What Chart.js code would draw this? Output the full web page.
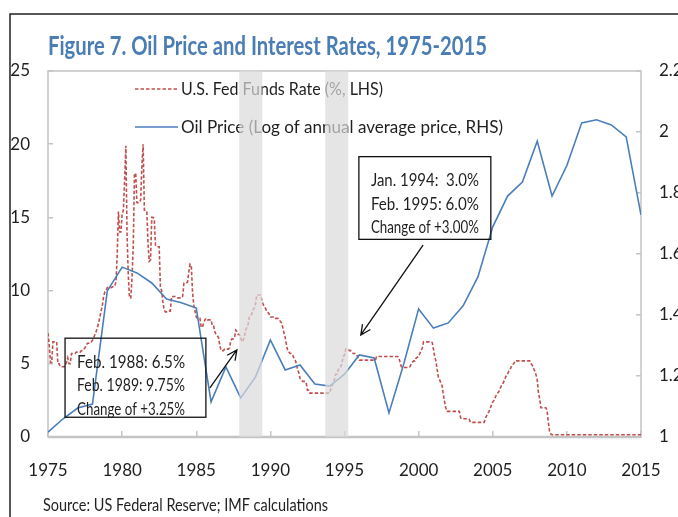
<!DOCTYPE html>
<html>
<head>
<meta charset="utf-8">
<script src="https://cdn.jsdelivr.net/npm/chart.js@4"></script>
<style>
  html, body { margin: 0; padding: 0; background: #fff; }
  #wrap { width: 678px; height: 517px; }
</style>
</head>
<body>
<div id="wrap"><canvas id="oilChart" width="678" height="517"></canvas></div>
<script>
/* ---------- DATA ---------- */

const oilYears = [1975, 1976, 1977, 1978, 1979, 1980, 1981, 1982, 1983, 1984,
                  1985, 1986, 1987, 1988, 1989, 1990, 1991, 1992, 1993, 1994,
                  1995, 1996, 1997, 1998, 1999, 2000, 2001, 2002, 2003, 2004,
                  2005, 2006, 2007, 2008, 2009, 2010, 2011, 2012, 2013, 2014, 2015];

// log10 of annual average oil price (RHS)
const oilLogPrice = [1.016, 1.059, 1.095, 1.108, 1.479, 1.557, 1.538, 1.505, 1.452, 1.440,
                     1.423, 1.115, 1.230, 1.128, 1.197, 1.318, 1.220, 1.236, 1.174, 1.167,
                     1.206, 1.269, 1.259, 1.079, 1.240, 1.420, 1.357, 1.374, 1.430, 1.525,
                     1.689, 1.790, 1.836, 1.970, 1.790, 1.890, 2.030, 2.040, 2.023, 1.984, 1.728];

// monthly fed funds rate (%, LHS), one row per year from fedStartYear
const fedStartYear = 1975;
const fedFundsMonthly = [
  [7.1, 6.3, 5.1, 5.1, 6.5, 6.5, 6.5, 6.5, 5.0, 5.0, 4.8, 4.8],        // 1975
  [4.8, 4.8, 4.9, 5.1, 5.4, 5.0, 5.0, 5.7, 5.7, 5.7, 5.7, 5.8],        // 1976
  [5.8, 5.8, 5.8, 5.9, 5.9, 6.0, 6.1, 6.3, 6.4, 6.4, 6.5, 6.5],        // 1977
  [6.6, 6.8, 7.0, 7.2, 7.5, 7.8, 8.2, 8.6, 9.0, 9.6, 9.9, 10.0],       // 1978
  [10.2, 10.2, 10.2, 10.2, 10.25, 10.3, 10.3, 10.6, 12.4, 15.4, 14.0, 14.0], // 1979
  [15.2, 15.5, 17.5, 19.9, 13.8, 11.0, 9.5, 9.5, 10.9, 13.0, 18.0, 18.0],    // 1980
  [16.0, 16.0, 16.0, 16.2, 18.5, 20.0, 15.5, 15.5, 15.4, 13.1, 12.0, 12.1],  // 1981
  [15.0, 15.0, 14.9, 13.1, 13.0, 13.0, 13.0, 10.2, 10.0, 9.2, 8.7, 8.55],    // 1982
  [8.55, 8.55, 8.6, 8.6, 9.6, 9.6, 9.6, 9.6, 9.55, 9.5, 9.5, 9.5],     // 1983
  [9.5, 9.6, 10.5, 10.5, 10.5, 10.6, 11.3, 11.8, 11.7, 9.9, 9.0, 8.6], // 1984
  [8.2, 8.1, 8.1, 8.1, 7.5, 7.5, 7.8, 8.0, 8.1, 8.0, 8.0, 8.0],        // 1985
  [8.0, 7.6, 7.6, 7.2, 7.0, 6.9, 6.8, 6.3, 5.9, 5.9, 5.9, 6.0],        // 1986
  [6.0, 6.0, 6.0, 6.1, 6.6, 6.7, 6.7, 6.8, 7.3, 7.2, 7.0, 7.0],        // 1987
  [6.8, 6.5, 6.6, 6.9, 7.3, 7.5, 7.7, 8.2, 8.3, 8.4, 8.7, 8.8],        // 1988
  [9.1, 9.7, 9.7, 9.7, 9.7, 9.4, 9.1, 8.9, 8.8, 8.6, 8.5, 8.4],        // 1989
  [8.2, 8.2, 8.2, 8.2, 8.1, 8.1, 8.1, 8.0, 7.9, 7.8, 7.5, 7.1],        // 1990
  [6.8, 6.3, 5.9, 5.8, 5.7, 5.7, 5.6, 5.4, 5.3, 5.0, 4.6, 4.4],        // 1991
  [4.0, 3.9, 3.8, 3.8, 3.8, 3.7, 3.2, 3.2, 3.0, 3.0, 3.0, 3.0],        // 1992
  [3.0, 3.0, 3.0, 3.0, 3.0, 3.0, 3.0, 3.0, 3.0, 3.0, 3.0, 3.0],        // 1993
  [3.0, 3.3, 3.5, 3.7, 4.0, 4.3, 4.3, 4.6, 4.7, 4.8, 5.1, 5.5],        // 1994
  [5.6, 6.0, 6.0, 6.0, 5.9, 5.9, 5.8, 5.7, 5.7, 5.7, 5.6, 5.4],        // 1995
  [5.25, 5.25, 5.25, 5.25, 5.25, 5.25, 5.25, 5.25, 5.25, 5.25, 5.25, 5.25], // 1996
  [5.25, 5.25, 5.5, 5.5, 5.5, 5.5, 5.5, 5.5, 5.5, 5.5, 5.5, 5.5],      // 1997
  [5.5, 5.5, 5.5, 5.5, 5.5, 5.5, 5.5, 5.5, 5.4, 5.1, 4.8, 4.75],       // 1998
  [4.75, 4.75, 4.75, 4.75, 4.75, 4.8, 5.0, 5.1, 5.2, 5.2, 5.4, 5.45],  // 1999
  [5.5, 5.7, 5.9, 6.1, 6.5, 6.5, 6.5, 6.5, 6.5, 6.5, 6.5, 6.45],       // 2000
  [6.0, 5.5, 5.2, 4.6, 4.1, 3.9, 3.7, 3.5, 2.9, 2.4, 2.0, 1.75],       // 2001
  [1.75, 1.75, 1.75, 1.75, 1.75, 1.75, 1.75, 1.75, 1.75, 1.75, 1.3, 1.25], // 2002
  [1.25, 1.25, 1.25, 1.25, 1.25, 1.2, 1.0, 1.0, 1.0, 1.0, 1.0, 1.0],   // 2003
  [1.0, 1.0, 1.0, 1.0, 1.0, 1.0, 1.25, 1.45, 1.6, 1.75, 1.95, 2.2],    // 2004
  [2.4, 2.5, 2.7, 2.9, 3.0, 3.1, 3.3, 3.5, 3.6, 3.8, 4.0, 4.2],        // 2005
  [4.3, 4.5, 4.6, 4.8, 4.95, 5.0, 5.2, 5.2, 5.2, 5.2, 5.2, 5.2],       // 2006
  [5.2, 5.2, 5.2, 5.2, 5.2, 5.2, 5.2, 5.0, 4.9, 4.7, 4.5, 4.25],       // 2007
  [3.9, 3.0, 2.6, 2.0, 2.0, 2.0, 2.0, 2.0, 1.8, 1.0, 0.4, 0.2],        // 2008
  [0.15, 0.15, 0.15, 0.15, 0.15, 0.15, 0.15, 0.15, 0.15, 0.15, 0.15, 0.15], // 2009
  [0.15, 0.15, 0.15, 0.15, 0.15, 0.15, 0.15, 0.15, 0.15, 0.15, 0.15, 0.15], // 2010
  [0.15, 0.15, 0.15, 0.15, 0.15, 0.15, 0.15, 0.15, 0.15, 0.15, 0.15, 0.15], // 2011
  [0.15, 0.15, 0.15, 0.15, 0.15, 0.15, 0.15, 0.15, 0.15, 0.15, 0.15, 0.15], // 2012
  [0.15, 0.15, 0.15, 0.15, 0.15, 0.15, 0.15, 0.15, 0.15, 0.15, 0.15, 0.15], // 2013
  [0.15, 0.15, 0.15, 0.15, 0.15, 0.15, 0.15, 0.15, 0.15, 0.15, 0.15, 0.15], // 2014
  [0.15]                                                               // 2015
];

const xTickYears = [1975, 1980, 1985, 1990, 1995, 2000, 2005, 2010, 2015];
const leftTicks = [0, 5, 10, 15, 20, 25];
const rightTicks = [1, 1.2, 1.4, 1.6, 1.8, 2, 2.2];

// tightening episodes (shaded), in years
const bandStarts = [1987.9, 1993.7];
const bandEnds = [1989.45, 1995.25];

const note1Lines = ["Feb. 1988: 6.5%", "Feb. 1989: 9.75%", "Change of +3.25%"];
const note2Lines = ["Jan. 1994:  3.0%", "Feb. 1995: 6.0%", "Change of +3.00%"];

const titleText = "Figure 7. Oil Price and Interest Rates, 1975-2015";
const sourceText = "Source: US Federal Reserve; IMF calculations";
const fedLabel = "U.S. Fed Funds Rate (%, LHS)";
const oilLabel = "Oil Price (Log of annual average price, RHS)";

/* ---------- STYLE ---------- */

const FONT = '"Liberation Sans Narrow", Lato, sans-serif';
const RED = "#c0504d";
const BLUE = "#4a7ebb";
const FRAME_GREY = "#c4c4c4";
const TEXT = "#1f1f1f";

/* ---------- BUILD SERIES ---------- */

const fedPoints = [];
fedFundsMonthly.forEach((row, i) => {
  row.forEach((v, m) => fedPoints.push({ x: fedStartYear + i + m / 12, y: v }));
});
const oilPoints = oilYears.map((yr, i) => ({ x: yr, y: oilLogPrice[i] }));

/* ---------- DRAW HELPERS ---------- */

function arrow(ctx, x0, y0, x1, y1) {
  const a = Math.atan2(y1 - y0, x1 - x0);
  const head = 11, spread = 0.45;
  ctx.beginPath();
  ctx.moveTo(x0, y0);
  ctx.lineTo(x1, y1);
  ctx.moveTo(x1 - head * Math.cos(a - spread), y1 - head * Math.sin(a - spread));
  ctx.lineTo(x1, y1);
  ctx.lineTo(x1 - head * Math.cos(a + spread), y1 - head * Math.sin(a + spread));
  ctx.stroke();
}

function noteBox(ctx, chart, box, lines) {
  const xs = chart.scales.x, ys = chart.scales.y;
  const l = xs.getPixelForValue(box.x0), r = xs.getPixelForValue(box.x1);
  const t = ys.getPixelForValue(box.yTop), b = ys.getPixelForValue(box.yBottom);
  ctx.strokeStyle = "#111";
  ctx.lineWidth = 1.3;
  ctx.strokeRect(l, t, r - l, b - t);
  ctx.fillStyle = TEXT;
  ctx.font = "17px " + FONT;
  ctx.textAlign = "left";
  ctx.textBaseline = "middle";
  lines.forEach((s, i) => ctx.fillText(s, l + 12, t + 24 + i * 23.5, 108));
  arrow(ctx, xs.getPixelForValue(box.ax0), ys.getPixelForValue(box.ay0),
             xs.getPixelForValue(box.ax1), ys.getPixelForValue(box.ay1));
}

const figurePlugin = {
  id: "figure",
  beforeDraw(chart) {
    const ctx = chart.ctx;
    ctx.save();
    ctx.fillStyle = "#fff";
    ctx.fillRect(0, 0, chart.width, chart.height);
    ctx.restore();
  },
  beforeDatasetsDraw(chart) {
    const { ctx, chartArea: ca } = chart;
    ctx.save();
    ctx.strokeStyle = FRAME_GREY;
    ctx.lineWidth = 1.5;
    ctx.strokeRect(ca.left, ca.top, ca.right - ca.left, ca.bottom - ca.top);
    ctx.lineWidth = 2.5;
    ctx.beginPath();
    ctx.moveTo(ca.left, ca.bottom);
    ctx.lineTo(ca.right, ca.bottom);
    ctx.stroke();
    ctx.restore();
  },
  afterDatasetsDraw(chart) {
    const { ctx, chartArea: ca } = chart;
    const xs = chart.scales.x;
    ctx.save();

    // legend, inside the plot
    ctx.lineWidth = 1.6;
    ctx.strokeStyle = RED;
    ctx.setLineDash([3.5, 2]);
    ctx.beginPath(); ctx.moveTo(135, 89); ctx.lineTo(178, 89); ctx.stroke();
    ctx.setLineDash([]);
    ctx.strokeStyle = BLUE;
    ctx.beginPath(); ctx.moveTo(135, 127); ctx.lineTo(178, 127); ctx.stroke();
    ctx.fillStyle = TEXT;
    ctx.font = "18px " + FONT;
    ctx.textAlign = "left";
    ctx.textBaseline = "middle";
    ctx.fillText(fedLabel, 181, 89, 202);
    ctx.fillText(oilLabel, 181, 127, 322);

    // shaded tightening bands, drawn over lines and legend
    ctx.fillStyle = "rgba(218,218,218,0.7)";
    bandStarts.forEach((s, i) => {
      const l = xs.getPixelForValue(s), r = xs.getPixelForValue(bandEnds[i]);
      ctx.fillRect(l, ca.top, r - l, ca.bottom - ca.top);
    });

    // annotations
    noteBox(ctx, chart, { x0: 1976.15, x1: 1985.65, yTop: 6.75, yBottom: 1.35,
                          ax0: 1985.92, ay0: 3.35, ax1: 1987.74, ay1: 5.95 }, note1Lines);
    noteBox(ctx, chart, { x0: 1995.97, x1: 2004.87, yTop: 19.15, yBottom: 13.5,
                          ax0: 2000.3, ay0: 13.1, ax1: 1996.1, ay1: 6.97 }, note2Lines);
    ctx.restore();
  },
  afterDraw(chart) {
    const ctx = chart.ctx;
    ctx.save();
    // outer figure frame
    ctx.strokeStyle = "#222";
    ctx.lineWidth = 1.5;
    ctx.beginPath();
    ctx.moveTo(10, chart.height);
    ctx.lineTo(10, 14);
    ctx.lineTo(chart.width, 14);
    ctx.stroke();
    // title
    ctx.fillStyle = "#4b7db5";
    ctx.font = "bold 26px " + FONT;
    ctx.textAlign = "left";
    ctx.textBaseline = "alphabetic";
    ctx.fillText(titleText, 48, 55, 439);
    // source
    ctx.fillStyle = TEXT;
    ctx.font = "17px " + FONT;
    ctx.textBaseline = "middle";
    ctx.fillText(sourceText, 43, 506, 285);
    ctx.restore();
  }
};

/* ---------- CHART ---------- */

const tickFont = { family: FONT, size: 17 };

new Chart(document.getElementById("oilChart"), {
  type: "line",
  data: {
    datasets: [
      {
        label: oilLabel,
        data: oilPoints,
        yAxisID: "y1",
        borderColor: BLUE,
        borderWidth: 1.6,
        pointRadius: 0,
        tension: 0
      },
      {
        label: fedLabel,
        data: fedPoints,
        yAxisID: "y",
        borderColor: RED,
        borderWidth: 1.6,
        borderDash: [3.5, 2],
        pointRadius: 0,
        tension: 0
      }
    ]
  },
  options: {
    responsive: false,
    animation: false,
    layout: { padding: { top: 71, left: 0, right: 0, bottom: 0 } },
    plugins: {
      legend: { display: false },
      title: { display: false },
      tooltip: { enabled: false }
    },
    scales: {
      x: {
        type: "linear",
        min: 1975,
        max: 2015,
        afterBuildTicks: (s) => { s.ticks = xTickYears.map(v => ({ value: v })); },
        afterFit: (s) => { s.height = 80; s.paddingLeft = 0; s.paddingRight = 0; },
        ticks: { font: tickFont, color: TEXT, padding: 29, callback: v => String(v), maxRotation: 0 },
        grid: { drawOnChartArea: false, drawTicks: true, tickLength: -6, color: FRAME_GREY, lineWidth: 1.5 },
        border: { display: false }
      },
      y: {
        position: "left",
        min: 0,
        max: 25,
        afterBuildTicks: (s) => { s.ticks = leftTicks.map(v => ({ value: v })); },
        afterFit: (s) => { s.width = 48; },
        ticks: { font: tickFont, color: TEXT, padding: 23 },
        grid: { drawOnChartArea: false, drawTicks: true, tickLength: -5, color: FRAME_GREY, lineWidth: 1.5 },
        border: { display: false }
      },
      y1: {
        position: "right",
        min: 1,
        max: 2.2,
        afterBuildTicks: (s) => { s.ticks = rightTicks.map(v => ({ value: v })); },
        afterFit: (s) => { s.width = 37; },
        ticks: { font: tickFont, color: TEXT, padding: 23, callback: v => String(+v.toFixed(1)) },
        grid: { drawOnChartArea: false, drawTicks: true, tickLength: -5, color: FRAME_GREY, lineWidth: 1.5 },
        border: { display: false }
      }
    }
  },
  plugins: [figurePlugin]
});
</script>
</body>
</html>
